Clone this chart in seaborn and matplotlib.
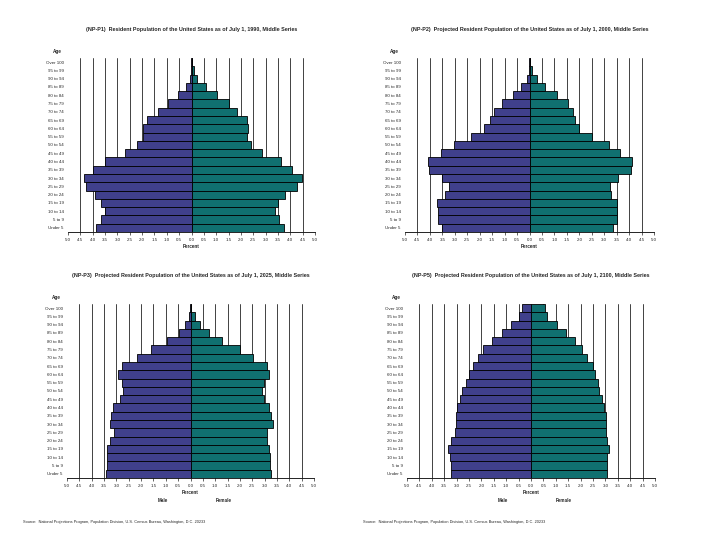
import numpy as np
import pandas as pd
import seaborn as sns
import matplotlib.pyplot as plt
from matplotlib.ticker import FuncFormatter

# Age groups, bottom (Under 5) to top (Over 100)
ages = ['Under 5', '5 to 9', '10 to 14', '15 to 19', '20 to 24', '25 to 29',
        '30 to 34', '35 to 39', '40 to 44', '45 to 49', '50 to 54', '55 to 59',
        '60 to 64', '65 to 69', '70 to 74', '75 to 79', '80 to 84', '85 to 89',
        '90 to 94', '95 to 99', 'Over 100']

# Percent of total population
male_1990 = [3.85, 3.68, 3.50, 3.66, 3.90, 4.28, 4.36, 3.99, 3.50, 2.68, 2.22,
             1.96, 1.96, 1.80, 1.35, 0.96, 0.53, 0.23, 0.07, 0.03, 0.01]
female_1990 = [3.74, 3.55, 3.38, 3.51, 3.78, 4.26, 4.46, 4.07, 3.64, 2.84, 2.39,
               2.23, 2.30, 2.26, 1.86, 1.51, 1.04, 0.59, 0.24, 0.09, 0.02]

male_2000 = [3.52, 3.68, 3.69, 3.72, 3.40, 3.24, 3.52, 4.02, 4.06, 3.54, 3.03,
             2.35, 1.83, 1.60, 1.42, 1.12, 0.67, 0.33, 0.12, 0.04, 0.01]
female_2000 = [3.36, 3.50, 3.50, 3.50, 3.28, 3.24, 3.57, 4.08, 4.13, 3.64, 3.18,
               2.50, 2.00, 1.82, 1.75, 1.55, 1.12, 0.64, 0.31, 0.12, 0.03]

male_2025 = [3.43, 3.39, 3.39, 3.38, 3.24, 3.09, 3.27, 3.23, 3.14, 2.85, 2.72,
             2.78, 2.95, 2.76, 2.16, 1.61, 0.97, 0.46, 0.23, 0.08, 0.02]
female_2025 = [3.24, 3.23, 3.23, 3.19, 3.11, 3.08, 3.32, 3.27, 3.19, 2.99, 2.88,
               2.97, 3.19, 3.08, 2.53, 2.00, 1.27, 0.73, 0.39, 0.19, 0.04]

male_2100 = [3.24, 3.23, 3.26, 3.35, 3.23, 3.05, 3.03, 3.01, 2.99, 2.85, 2.77,
             2.64, 2.50, 2.34, 2.12, 1.92, 1.59, 1.18, 0.81, 0.47, 0.35]
female_2100 = [3.08, 3.08, 3.08, 3.15, 3.08, 3.03, 3.04, 3.01, 2.96, 2.85, 2.76,
               2.69, 2.58, 2.50, 2.27, 2.07, 1.77, 1.41, 1.05, 0.66, 0.57]

titles = [
    '(NP-P1)  Resident Population of the United States as of July 1, 1990, Middle Series',
    '(NP-P2)  Projected Resident Population of the United States as of July 1, 2000, Middle Series',
    '(NP-P3)  Projected Resident Population of the United States as of July 1, 2025, Middle Series',
    '(NP-P5)  Projected Resident Population of the United States as of July 1, 2100, Middle Series',
]
source = 'Source:  National Projections Program, Population Division, U.S. Census Bureau, Washington, D.C. 20233'

sns.set_style('white')
plt.rcParams['font.family'] = ['Liberation Sans', 'DejaVu Sans']

fig = plt.figure(figsize=(7.2, 5.4), dpi=100)

W, H = 720.0, 540.0
# axes boxes in pixels: left, top, right, bottom
boxes = [(68, 58, 315, 232), (405, 58, 654, 232),
         (67, 304, 314, 478), (407, 304, 655, 478)]
series = [(male_1990, female_1990), (male_2000, female_2000),
          (male_2025, female_2025), (male_2100, female_2100)]

order = ages[::-1]  # top row first
ticks = np.arange(-5.0, 5.01, 0.5)

for i, (box, (m, f), title) in enumerate(zip(boxes, series, titles)):
    l, t, r, b = box
    ax = fig.add_axes([l / W, 1 - b / H, (r - l) / W, (b - t) / H])

    df = pd.DataFrame({
        'age': ages * 2,
        'pct': [-v for v in m] + list(f),
        'sex': ['Male'] * len(ages) + ['Female'] * len(ages),
    })
    sns.barplot(data=df, x='pct', y='age', hue='sex', order=order, dodge=False,
                palette={'Male': '#333399', 'Female': '#008080'}, width=1.0,
                edgecolor='black', linewidth=0.6, legend=False, ax=ax)

    ax.set_xlim(-5.0, 5.0)
    ax.set_ylim(len(ages) - 0.5, -0.5)
    ax.set_xticks(ticks)
    ax.xaxis.set_major_formatter(FuncFormatter(lambda v, p: f'{abs(v):.1f}'))
    ax.set_axisbelow(True)
    for x in ticks[1:]:
        ax.axvline(x, color='#333333', lw=0.65, zorder=0)

    for s in ['top', 'right', 'left']:
        ax.spines[s].set_visible(False)
    ax.spines['bottom'].set_linewidth(0.6)
    ax.spines['bottom'].set_color('black')
    ax.tick_params(axis='x', labelsize=3.2, length=2, width=0.5, pad=2,
                   direction='out', bottom=True)
    ax.tick_params(axis='y', labelsize=3.2, length=0, pad=3)
    ax.set_ylabel('')
    ax.set_xlabel('Percent', fontsize=3.3, fontweight='bold', labelpad=2)

    cx = (l + r) / 2
    fig.text(cx / W, 1 - (t - 29) / H, title, ha='center', va='center',
             fontsize=3.9, fontweight='bold')
    fig.text((l - 15) / W, 1 - (t - 7) / H, 'Age', ha='left', va='center',
             fontsize=3.3, fontweight='bold')

    if i >= 2:
        zero = l + (r - l) / 2
        fig.text((zero - 28) / W, 1 - 500 / H, 'Male', ha='center', va='center',
                 fontsize=3.3, fontweight='bold')
        fig.text((zero + 33) / W, 1 - 500 / H, 'Female', ha='center', va='center',
                 fontsize=3.3, fontweight='bold')

fig.text(23 / W, 1 - 522 / H, source, ha='left', va='center', fontsize=2.8)
fig.text(363 / W, 1 - 522 / H, source, ha='left', va='center', fontsize=2.8)

fig.savefig('out.png', dpi=100)
